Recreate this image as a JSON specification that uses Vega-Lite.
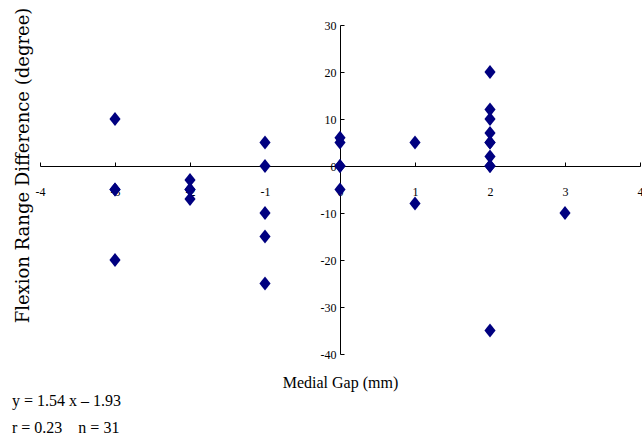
{
  "$schema": "https://vega.github.io/schema/vega-lite/v6.json",
  "width": 600,
  "height": 329,
  "autosize": {"type": "none"},
  "padding": {"left": 40, "top": 25, "right": 2, "bottom": 88},
  "background": "white",
  "title": {
    "text": ["y = 1.54 x – 1.93", "r = 0.23\u00a0\u00a0\u00a0\u00a0n = 31"],
    "orient": "bottom",
    "anchor": "start",
    "frame": "bounds",
    "font": "Liberation Serif",
    "fontSize": 16,
    "fontWeight": "normal",
    "lineHeight": 27,
    "offset": 3,
    "dx": -2,
    "color": "black"
  },
  "config": {"view": {"stroke": null}},
  "data": {
    "values": [
      {"gap": -3, "diff": 10}, {"gap": -3, "diff": -5}, {"gap": -3, "diff": -5}, {"gap": -3, "diff": -20},
      {"gap": -2, "diff": -3}, {"gap": -2, "diff": -5}, {"gap": -2, "diff": -5}, {"gap": -2, "diff": -7},
      {"gap": -1, "diff": 5}, {"gap": -1, "diff": 0}, {"gap": -1, "diff": -10}, {"gap": -1, "diff": -15}, {"gap": -1, "diff": -25},
      {"gap": 0, "diff": 6}, {"gap": 0, "diff": 5}, {"gap": 0, "diff": 0}, {"gap": 0, "diff": 0}, {"gap": 0, "diff": -5},
      {"gap": 1, "diff": 5}, {"gap": 1, "diff": -8},
      {"gap": 2, "diff": 20}, {"gap": 2, "diff": 12}, {"gap": 2, "diff": 10}, {"gap": 2, "diff": 7}, {"gap": 2, "diff": 5}, {"gap": 2, "diff": 5}, {"gap": 2, "diff": 2}, {"gap": 2, "diff": 0}, {"gap": 2, "diff": 0}, {"gap": 2, "diff": -35},
      {"gap": 3, "diff": -10}
    ]
  },
  "mark": {"type": "point", "shape": "M0,-1.25L1,0L0,1.25L-1,0Z", "filled": true, "size": 125, "color": "#000080", "opacity": 1},
  "encoding": {
    "x": {
      "field": "gap",
      "type": "quantitative",
      "scale": {"domain": [-4, 4], "nice": false, "zero": false},
      "axis": {
        "title": "Medial Gap (mm)",
        "orient": "bottom",
        "offset": -188,
        "values": [-4, -3, -2, -1, 0, 1, 2, 3, 4],
        "labelExpr": "'' + datum.value",
        "grid": false,
        "domainColor": "black",
        "domainWidth": 1,
        "tickColor": "black",
        "tickSize": -4,
        "labelPadding": 24,
        "labelFont": "Liberation Serif",
        "labelFontSize": 12,
        "labelColor": "black",
        "labelFlush": false,
        "labelOverlap": false,
        "titleFont": "Liberation Serif",
        "titleFontSize": 16,
        "titleFontWeight": "normal",
        "titleColor": "black",
        "titleY": 208
      }
    },
    "y": {
      "field": "diff",
      "type": "quantitative",
      "scale": {"domain": [-40, 30], "nice": false, "zero": false},
      "axis": {
        "title": "Flexion Range Difference (degree)",
        "orient": "left",
        "offset": -300,
        "values": [-40, -30, -20, -10, 0, 10, 20, 30],
        "labelExpr": "'' + datum.value",
        "grid": false,
        "domainColor": "black",
        "domainWidth": 1,
        "tickColor": "black",
        "tickSize": -4,
        "labelPadding": 8,
        "labelFont": "Liberation Serif",
        "labelFontSize": 12,
        "labelColor": "black",
        "labelFlush": false,
        "labelOverlap": false,
        "titleFont": "DejaVu Serif",
        "titleFontSize": 18,
        "titleFontWeight": "normal",
        "titleColor": "black",
        "titleX": -308,
        "titleY": 140
      }
    }
  }
}
